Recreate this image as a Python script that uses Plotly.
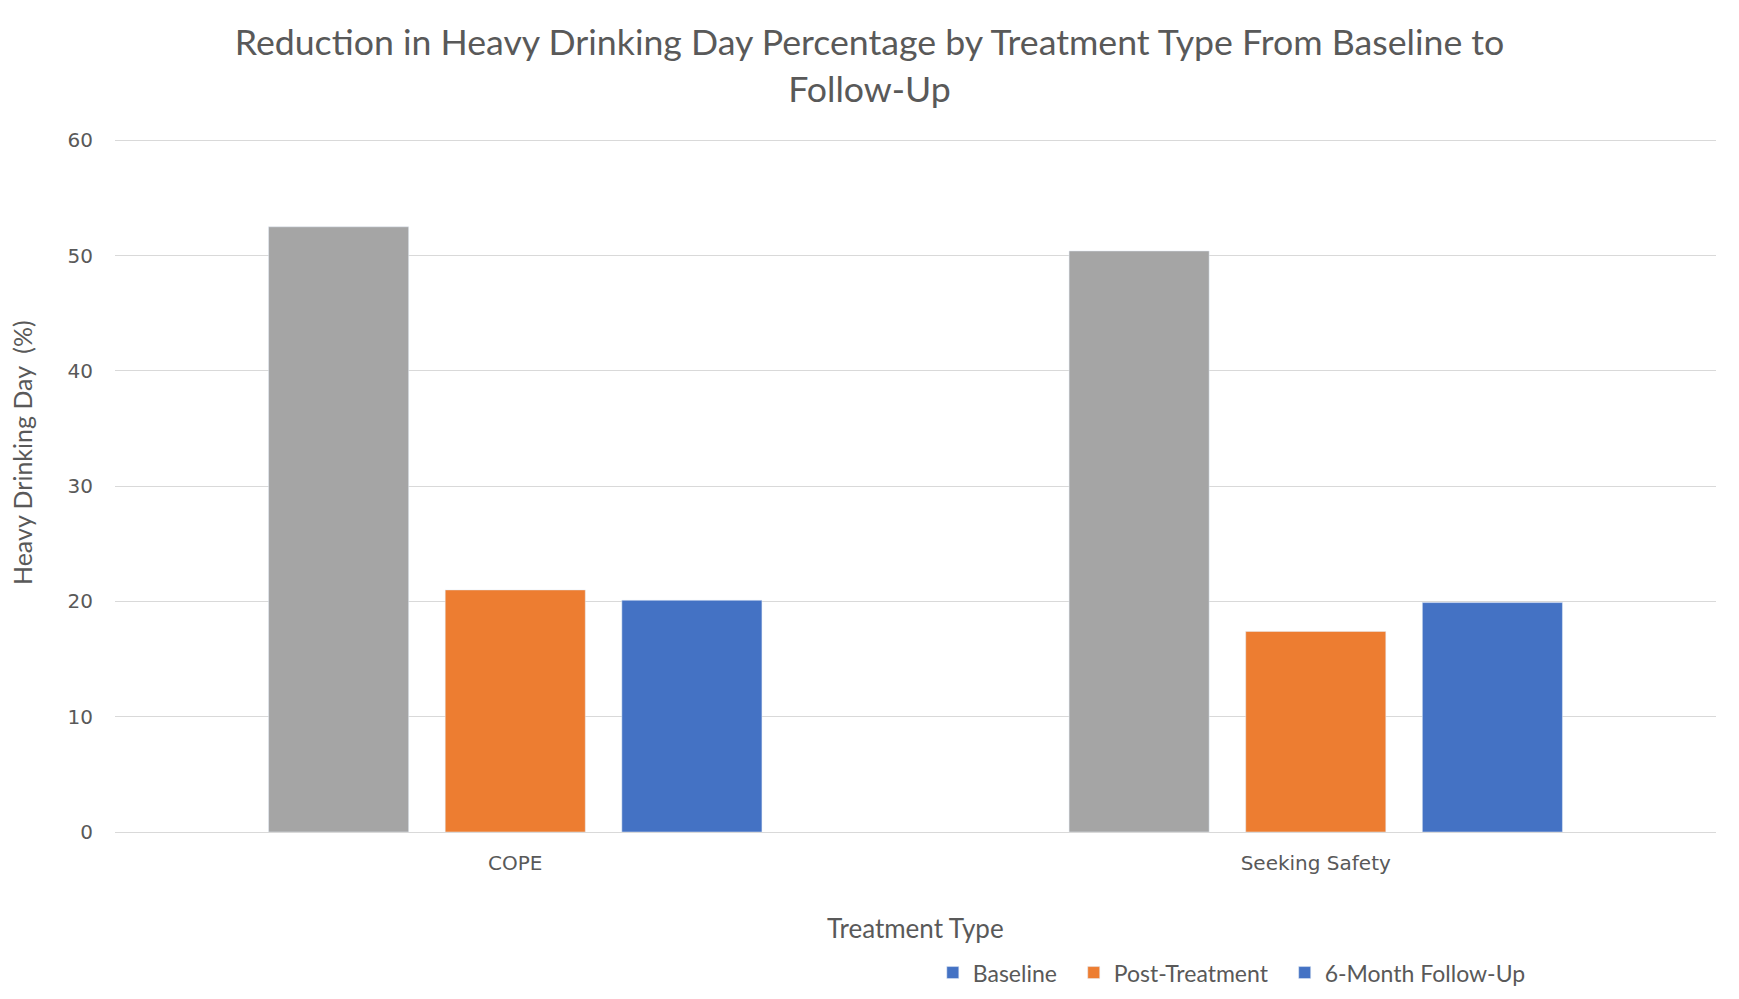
import plotly.graph_objects as go

categories = ["COPE", "Seeking Safety"]
series_names = ["Baseline", "Post-Treatment", "6-Month Follow-Up"]
baseline = [52.5, 50.4]
post_treatment = [21.0, 17.4]
follow_up = [20.1, 19.9]
y_ticks = [0, 10, 20, 30, 40, 50, 60]

bar_colors = ["#A5A5A5", "#ED7D31", "#4472C4"]
legend_colors = ["#4472C4", "#ED7D31", "#4472C4"]
legend_pad = ["\u00a0\u00a0", "\u00a0\u00a0", ""]

fig = go.Figure()
for name, vals, c in zip(series_names, [baseline, post_treatment, follow_up], bar_colors):
    fig.add_trace(go.Bar(x=categories, y=vals, name=name, marker_color=c,
                         showlegend=False, hoverinfo="x+y+name"))
# legend-only entries (legend swatch colours as in the original chart)
for name, lc, pad in zip(series_names, legend_colors, legend_pad):
    fig.add_trace(go.Bar(x=[categories[0]], y=[None], name=name + pad, marker_color=lc,
                         showlegend=True, hoverinfo="skip", xaxis="x2", yaxis="y2"))

txt = "#595959"
fig.update_layout(
    width=1739, height=999,
    paper_bgcolor="white", plot_bgcolor="white",
    margin=dict(l=115, r=23, t=138, b=167, autoexpand=False),
    barmode="group", bargap=0.338, bargroupgap=0.207,
    title=dict(text="Reduction in Heavy Drinking Day Percentage by Treatment Type From Baseline to<br>Follow-Up",
               x=0.5, xanchor="center", y=0.9446, yanchor="middle",
               font=dict(family="Lato", size=35.7, color=txt)),
    font=dict(family="Lato", color=txt),
    legend=dict(orientation="h", xref="container", yref="container",
                x=0.5364, xanchor="left", y=0.0264, yanchor="middle",
                font=dict(family="Lato", size=23, color=txt), itemwidth=30,
                traceorder="normal", bgcolor="rgba(0,0,0,0)"),
    showlegend=True,
    xaxis2=dict(overlaying="x", visible=False),
    yaxis2=dict(overlaying="y", visible=False, range=[0, 60]),
)
fig.update_layout(
    yaxis=dict(range=[0, 60.2], tickvals=y_ticks, showgrid=True, gridcolor="#D9D9D9", gridwidth=1.3,
               zeroline=False, showline=False, automargin=False,
               tickfont=dict(family="DejaVu Sans", size=20, color=txt),
               ticks="", ticklabelstandoff=21),
    xaxis=dict(showline=True, linecolor="#D9D9D9", linewidth=1.3, showgrid=False, automargin=False,
               tickfont=dict(family="DejaVu Sans", size=20, color=txt),
               ticks="", ticklabelstandoff=13),
)
fig.add_annotation(text="Heavy Drinking Day  (%)", xref="paper", yref="paper",
                   x=-0.0585, y=0.5465, textangle=-90, showarrow=False,
                   xanchor="center", yanchor="middle",
                   font=dict(family="Lato", size=25, color=txt))
fig.add_annotation(text="Treatment Type", xref="paper", yref="paper",
                   x=0.5, y=-0.139, showarrow=False, xanchor="center", yanchor="middle",
                   font=dict(family="Lato", size=26, color=txt))
fig.write_html("out.html", config={"displayModeBar": False},
               post_script="document.body.style.margin='0';")
